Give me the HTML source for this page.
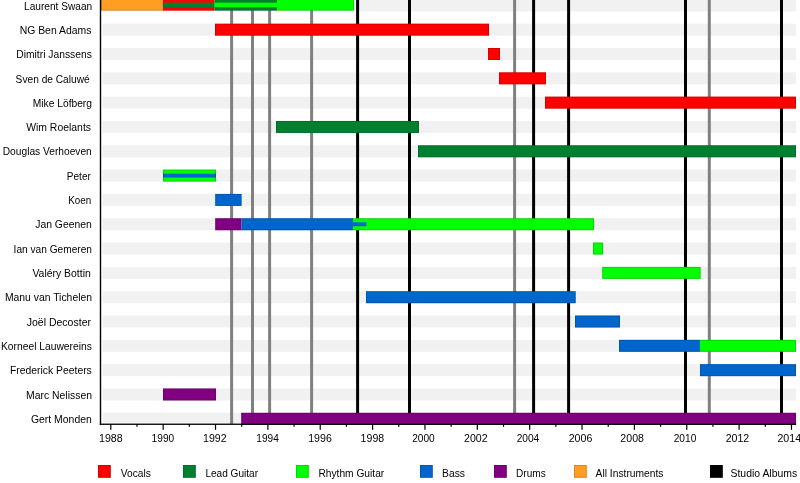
<!DOCTYPE html><html><head><meta charset="utf-8"><style>html,body{margin:0;padding:0;background:#fff;width:800px;height:483px;overflow:hidden;position:relative} svg{will-change:transform}</style></head><body><svg width="800" height="483" viewBox="0 0 800 483" style="position:absolute;left:0;top:0">
<rect x="0" y="0" width="800" height="483" fill="#fff"/>
<rect x="102.5" y="-0.64" width="693.5" height="12.00" fill="#f1f1f1"/>
<rect x="102.5" y="23.68" width="693.5" height="12.00" fill="#f1f1f1"/>
<rect x="102.5" y="48.00" width="693.5" height="12.00" fill="#f1f1f1"/>
<rect x="102.5" y="72.32" width="693.5" height="12.00" fill="#f1f1f1"/>
<rect x="102.5" y="96.64" width="693.5" height="12.00" fill="#f1f1f1"/>
<rect x="102.5" y="120.96" width="693.5" height="12.00" fill="#f1f1f1"/>
<rect x="102.5" y="145.28" width="693.5" height="12.00" fill="#f1f1f1"/>
<rect x="102.5" y="169.60" width="693.5" height="12.00" fill="#f1f1f1"/>
<rect x="102.5" y="193.92" width="693.5" height="12.00" fill="#f1f1f1"/>
<rect x="102.5" y="218.24" width="693.5" height="12.00" fill="#f1f1f1"/>
<rect x="102.5" y="242.56" width="693.5" height="12.00" fill="#f1f1f1"/>
<rect x="102.5" y="266.88" width="693.5" height="12.00" fill="#f1f1f1"/>
<rect x="102.5" y="291.20" width="693.5" height="12.00" fill="#f1f1f1"/>
<rect x="102.5" y="315.52" width="693.5" height="12.00" fill="#f1f1f1"/>
<rect x="102.5" y="339.84" width="693.5" height="12.00" fill="#f1f1f1"/>
<rect x="102.5" y="364.16" width="693.5" height="12.00" fill="#f1f1f1"/>
<rect x="102.5" y="388.48" width="693.5" height="12.00" fill="#f1f1f1"/>
<rect x="102.5" y="412.80" width="693.5" height="12.00" fill="#f1f1f1"/>
<rect x="230.10" y="-2" width="3" height="426.3" fill="#808080"/>
<rect x="251.00" y="-2" width="3" height="426.3" fill="#808080"/>
<rect x="268.10" y="-2" width="3" height="426.3" fill="#808080"/>
<rect x="310.10" y="-2" width="3" height="426.3" fill="#808080"/>
<rect x="356.10" y="-2" width="3" height="426.3" fill="#000000"/>
<rect x="408.00" y="-2" width="3" height="426.3" fill="#000000"/>
<rect x="513.10" y="-2" width="3" height="426.3" fill="#808080"/>
<rect x="532.10" y="-2" width="3" height="426.3" fill="#000000"/>
<rect x="567.10" y="-2" width="3" height="426.3" fill="#000000"/>
<rect x="684.00" y="-2" width="3" height="426.3" fill="#000000"/>
<rect x="707.80" y="-2" width="3" height="426.3" fill="#808080"/>
<rect x="780.00" y="-2" width="3" height="426.3" fill="#000000"/>
<rect x="101.00" y="-0.70" width="61.80" height="11.3" fill="#ff9e22"/>
<rect x="162.80" y="-0.70" width="51.70" height="11.3" fill="#ff0000"/>
<rect x="162.80" y="2.65" width="51.70" height="4.6" fill="#00802f"/>
<rect x="214.50" y="-0.70" width="62.50" height="11.3" fill="#00802f"/>
<rect x="214.50" y="2.65" width="62.50" height="4.6" fill="#00ff00"/>
<rect x="277.00" y="-0.70" width="77.00" height="11.3" fill="#00ff00"/>
<rect x="101.50" y="-5.00" width="252.00" height="15.10" fill="none" stroke="rgba(0,0,0,0.15)" stroke-width="1"/>
<rect x="215.00" y="23.68" width="274.00" height="12.0" fill="#ff0000"/>
<rect x="215.50" y="24.18" width="273.00" height="11.00" fill="none" stroke="rgba(0,0,0,0.15)" stroke-width="1"/>
<rect x="488.00" y="48.00" width="12.00" height="12.0" fill="#ff0000"/>
<rect x="488.50" y="48.50" width="11.00" height="11.00" fill="none" stroke="rgba(0,0,0,0.15)" stroke-width="1"/>
<rect x="499.00" y="72.32" width="47.00" height="12.0" fill="#ff0000"/>
<rect x="499.50" y="72.82" width="46.00" height="11.00" fill="none" stroke="rgba(0,0,0,0.15)" stroke-width="1"/>
<rect x="545.00" y="96.64" width="251.00" height="12.0" fill="#ff0000"/>
<rect x="545.50" y="97.14" width="250.00" height="11.00" fill="none" stroke="rgba(0,0,0,0.15)" stroke-width="1"/>
<rect x="276.00" y="120.96" width="143.00" height="12.0" fill="#00802f"/>
<rect x="276.50" y="121.46" width="142.00" height="11.00" fill="none" stroke="rgba(0,0,0,0.15)" stroke-width="1"/>
<rect x="418.00" y="145.28" width="378.00" height="12.0" fill="#00802f"/>
<rect x="418.50" y="145.78" width="377.00" height="11.00" fill="none" stroke="rgba(0,0,0,0.15)" stroke-width="1"/>
<rect x="163.00" y="169.60" width="53.00" height="12.0" fill="#00ff00"/>
<rect x="163.00" y="173.65" width="53.00" height="3.9" fill="#0066cc"/>
<rect x="163.50" y="170.10" width="52.00" height="11.00" fill="none" stroke="rgba(0,0,0,0.15)" stroke-width="1"/>
<rect x="215.20" y="193.92" width="26.40" height="12.0" fill="#0066cc"/>
<rect x="215.70" y="194.42" width="25.40" height="11.00" fill="none" stroke="rgba(0,0,0,0.15)" stroke-width="1"/>
<rect x="215.20" y="218.24" width="26.40" height="12.0" fill="#800080"/>
<rect x="241.60" y="218.24" width="111.40" height="12.0" fill="#0066cc"/>
<rect x="353.00" y="218.24" width="13.70" height="12.0" fill="#00ff00"/>
<rect x="353.00" y="222.29" width="13.70" height="3.9" fill="#0066cc"/>
<rect x="366.70" y="218.24" width="227.30" height="12.0" fill="#00ff00"/>
<rect x="215.70" y="218.74" width="377.80" height="11.00" fill="none" stroke="rgba(0,0,0,0.15)" stroke-width="1"/>
<rect x="593.00" y="242.56" width="10.00" height="12.0" fill="#00ff00"/>
<rect x="593.50" y="243.06" width="9.00" height="11.00" fill="none" stroke="rgba(0,0,0,0.15)" stroke-width="1"/>
<rect x="602.20" y="266.88" width="98.40" height="12.0" fill="#00ff00"/>
<rect x="602.70" y="267.38" width="97.40" height="11.00" fill="none" stroke="rgba(0,0,0,0.15)" stroke-width="1"/>
<rect x="366.00" y="291.20" width="209.70" height="12.0" fill="#0066cc"/>
<rect x="366.50" y="291.70" width="208.70" height="11.00" fill="none" stroke="rgba(0,0,0,0.15)" stroke-width="1"/>
<rect x="575.00" y="315.52" width="45.00" height="12.0" fill="#0066cc"/>
<rect x="575.50" y="316.02" width="44.00" height="11.00" fill="none" stroke="rgba(0,0,0,0.15)" stroke-width="1"/>
<rect x="619.00" y="339.84" width="81.00" height="12.0" fill="#0066cc"/>
<rect x="700.00" y="339.84" width="96.00" height="12.0" fill="#00ff00"/>
<rect x="619.50" y="340.34" width="176.00" height="11.00" fill="none" stroke="rgba(0,0,0,0.15)" stroke-width="1"/>
<rect x="700.00" y="364.16" width="96.00" height="12.0" fill="#0066cc"/>
<rect x="700.50" y="364.66" width="95.00" height="11.00" fill="none" stroke="rgba(0,0,0,0.15)" stroke-width="1"/>
<rect x="163.00" y="388.48" width="53.00" height="12.0" fill="#800080"/>
<rect x="163.50" y="388.98" width="52.00" height="11.00" fill="none" stroke="rgba(0,0,0,0.15)" stroke-width="1"/>
<rect x="241.20" y="412.80" width="554.80" height="12.0" fill="#800080"/>
<rect x="241.70" y="413.30" width="553.80" height="11.00" fill="none" stroke="rgba(0,0,0,0.15)" stroke-width="1"/>
<rect x="99.8" y="-2" width="1.4" height="427" fill="#000"/>
<rect x="99.8" y="423.6" width="696.4" height="1.3" fill="#000"/>
<rect x="110.20" y="424" width="1.2" height="5.8" fill="#000"/>
<rect x="136.38" y="424" width="1.2" height="2.8" fill="#000"/>
<rect x="162.56" y="424" width="1.2" height="5.8" fill="#000"/>
<rect x="188.74" y="424" width="1.2" height="2.8" fill="#000"/>
<rect x="214.92" y="424" width="1.2" height="5.8" fill="#000"/>
<rect x="241.10" y="424" width="1.2" height="2.8" fill="#000"/>
<rect x="267.28" y="424" width="1.2" height="5.8" fill="#000"/>
<rect x="293.46" y="424" width="1.2" height="2.8" fill="#000"/>
<rect x="319.64" y="424" width="1.2" height="5.8" fill="#000"/>
<rect x="345.82" y="424" width="1.2" height="2.8" fill="#000"/>
<rect x="372.00" y="424" width="1.2" height="5.8" fill="#000"/>
<rect x="398.18" y="424" width="1.2" height="2.8" fill="#000"/>
<rect x="424.36" y="424" width="1.2" height="5.8" fill="#000"/>
<rect x="450.54" y="424" width="1.2" height="2.8" fill="#000"/>
<rect x="476.72" y="424" width="1.2" height="5.8" fill="#000"/>
<rect x="502.90" y="424" width="1.2" height="2.8" fill="#000"/>
<rect x="529.08" y="424" width="1.2" height="5.8" fill="#000"/>
<rect x="555.26" y="424" width="1.2" height="2.8" fill="#000"/>
<rect x="581.44" y="424" width="1.2" height="5.8" fill="#000"/>
<rect x="607.62" y="424" width="1.2" height="2.8" fill="#000"/>
<rect x="633.80" y="424" width="1.2" height="5.8" fill="#000"/>
<rect x="659.98" y="424" width="1.2" height="2.8" fill="#000"/>
<rect x="686.16" y="424" width="1.2" height="5.8" fill="#000"/>
<rect x="712.34" y="424" width="1.2" height="2.8" fill="#000"/>
<rect x="738.52" y="424" width="1.2" height="5.8" fill="#000"/>
<rect x="764.70" y="424" width="1.2" height="2.8" fill="#000"/>
<rect x="790.88" y="424" width="1.2" height="5.8" fill="#000"/>
<text x="92.20" y="9.56" text-anchor="end" font-family="Liberation Sans, sans-serif" font-size="10.8" fill="#000" transform="translate(92.20 0) scale(0.9389 1) translate(-92.20 0)">Laurent Swaan</text>
<text x="91.50" y="33.88" text-anchor="end" font-family="Liberation Sans, sans-serif" font-size="10.8" fill="#000" transform="translate(91.50 0) scale(0.9666 1) translate(-91.50 0)">NG Ben Adams</text>
<text x="91.80" y="58.20" text-anchor="end" font-family="Liberation Sans, sans-serif" font-size="10.8" fill="#000" transform="translate(91.80 0) scale(0.9539 1) translate(-91.80 0)">Dimitri Janssens</text>
<text x="89.70" y="82.52" text-anchor="end" font-family="Liberation Sans, sans-serif" font-size="10.8" fill="#000" transform="translate(89.70 0) scale(0.9424 1) translate(-89.70 0)">Sven de Caluwé</text>
<text x="92.00" y="106.84" text-anchor="end" font-family="Liberation Sans, sans-serif" font-size="10.8" fill="#000" transform="translate(92.00 0) scale(0.9500 1) translate(-92.00 0)">Mike Löfberg</text>
<text x="91.00" y="131.16" text-anchor="end" font-family="Liberation Sans, sans-serif" font-size="10.8" fill="#000" transform="translate(91.00 0) scale(0.9653 1) translate(-91.00 0)">Wim Roelants</text>
<text x="91.80" y="155.48" text-anchor="end" font-family="Liberation Sans, sans-serif" font-size="10.8" fill="#000" transform="translate(91.80 0) scale(0.9457 1) translate(-91.80 0)">Douglas Verhoeven</text>
<text x="90.80" y="179.80" text-anchor="end" font-family="Liberation Sans, sans-serif" font-size="10.8" fill="#000" transform="translate(90.80 0) scale(0.9281 1) translate(-90.80 0)">Peter</text>
<text x="91.20" y="204.12" text-anchor="end" font-family="Liberation Sans, sans-serif" font-size="10.8" fill="#000" transform="translate(91.20 0) scale(0.9087 1) translate(-91.20 0)">Koen</text>
<text x="91.80" y="228.44" text-anchor="end" font-family="Liberation Sans, sans-serif" font-size="10.8" fill="#000" transform="translate(91.80 0) scale(0.9621 1) translate(-91.80 0)">Jan Geenen</text>
<text x="92.00" y="252.76" text-anchor="end" font-family="Liberation Sans, sans-serif" font-size="10.8" fill="#000" transform="translate(92.00 0) scale(0.9403 1) translate(-92.00 0)">Ian van Gemeren</text>
<text x="90.80" y="277.08" text-anchor="end" font-family="Liberation Sans, sans-serif" font-size="10.8" fill="#000" transform="translate(90.80 0) scale(0.9667 1) translate(-90.80 0)">Valéry Bottin</text>
<text x="92.00" y="301.40" text-anchor="end" font-family="Liberation Sans, sans-serif" font-size="10.8" fill="#000" transform="translate(92.00 0) scale(0.9623 1) translate(-92.00 0)">Manu van Tichelen</text>
<text x="91.00" y="325.72" text-anchor="end" font-family="Liberation Sans, sans-serif" font-size="10.8" fill="#000" transform="translate(91.00 0) scale(0.9748 1) translate(-91.00 0)">Joël Decoster</text>
<text x="91.80" y="350.04" text-anchor="end" font-family="Liberation Sans, sans-serif" font-size="10.8" fill="#000" transform="translate(91.80 0) scale(0.9522 1) translate(-91.80 0)">Korneel Lauwereins</text>
<text x="91.80" y="374.36" text-anchor="end" font-family="Liberation Sans, sans-serif" font-size="10.8" fill="#000" transform="translate(91.80 0) scale(0.9607 1) translate(-91.80 0)">Frederick Peeters</text>
<text x="92.00" y="398.68" text-anchor="end" font-family="Liberation Sans, sans-serif" font-size="10.8" fill="#000" transform="translate(92.00 0) scale(0.9651 1) translate(-92.00 0)">Marc Nelissen</text>
<text x="91.80" y="423.00" text-anchor="end" font-family="Liberation Sans, sans-serif" font-size="10.8" fill="#000" transform="translate(91.80 0) scale(0.9661 1) translate(-91.80 0)">Gert Monden</text>
<text x="110.80" y="441.8" text-anchor="middle" font-family="Liberation Sans, sans-serif" font-size="10.5" fill="#000" transform="translate(110.80 0) scale(1.0123 1) translate(-110.80 0)">1988</text>
<text x="162.91" y="441.8" text-anchor="middle" font-family="Liberation Sans, sans-serif" font-size="10.5" fill="#000" transform="translate(162.91 0) scale(0.9663 1) translate(-162.91 0)">1990</text>
<text x="214.82" y="441.8" text-anchor="middle" font-family="Liberation Sans, sans-serif" font-size="10.5" fill="#000" transform="translate(214.82 0) scale(1.0102 1) translate(-214.82 0)">1992</text>
<text x="267.58" y="441.8" text-anchor="middle" font-family="Liberation Sans, sans-serif" font-size="10.5" fill="#000" transform="translate(267.58 0) scale(0.9663 1) translate(-267.58 0)">1994</text>
<text x="319.99" y="441.8" text-anchor="middle" font-family="Liberation Sans, sans-serif" font-size="10.5" fill="#000" transform="translate(319.99 0) scale(1.0102 1) translate(-319.99 0)">1996</text>
<text x="372.40" y="441.8" text-anchor="middle" font-family="Liberation Sans, sans-serif" font-size="10.5" fill="#000" transform="translate(372.40 0) scale(1.0102 1) translate(-372.40 0)">1998</text>
<text x="423.41" y="441.8" text-anchor="middle" font-family="Liberation Sans, sans-serif" font-size="10.5" fill="#000" transform="translate(423.41 0) scale(0.9663 1) translate(-423.41 0)">2000</text>
<text x="475.82" y="441.8" text-anchor="middle" font-family="Liberation Sans, sans-serif" font-size="10.5" fill="#000" transform="translate(475.82 0) scale(1.0102 1) translate(-475.82 0)">2002</text>
<text x="527.93" y="441.8" text-anchor="middle" font-family="Liberation Sans, sans-serif" font-size="10.5" fill="#000" transform="translate(527.93 0) scale(0.9663 1) translate(-527.93 0)">2004</text>
<text x="580.54" y="441.8" text-anchor="middle" font-family="Liberation Sans, sans-serif" font-size="10.5" fill="#000" transform="translate(580.54 0) scale(1.0123 1) translate(-580.54 0)">2006</text>
<text x="632.15" y="441.8" text-anchor="middle" font-family="Liberation Sans, sans-serif" font-size="10.5" fill="#000" transform="translate(632.15 0) scale(1.0102 1) translate(-632.15 0)">2008</text>
<text x="685.01" y="441.8" text-anchor="middle" font-family="Liberation Sans, sans-serif" font-size="10.5" fill="#000" transform="translate(685.01 0) scale(0.9663 1) translate(-685.01 0)">2010</text>
<text x="737.47" y="441.8" text-anchor="middle" font-family="Liberation Sans, sans-serif" font-size="10.5" fill="#000" transform="translate(737.47 0) scale(1.0123 1) translate(-737.47 0)">2012</text>
<text x="789.25" y="441.8" text-anchor="middle" font-family="Liberation Sans, sans-serif" font-size="10.5" fill="#000" transform="translate(789.25 0) scale(1.0123 1) translate(-789.25 0)">2014</text>
<rect x="98" y="465" width="12.8" height="12.8" fill="#ff0000"/>
<rect x="98.5" y="465.5" width="11.8" height="11.8" fill="none" stroke="rgba(0,0,0,0.15)" stroke-width="1"/>
<text x="120.80" y="477.0" font-family="Liberation Sans, sans-serif" font-size="10.8" fill="#000" transform="translate(120.80 0) scale(0.9443 1) translate(-120.80 0)">Vocals</text>
<rect x="183" y="465" width="12.8" height="12.8" fill="#00802f"/>
<rect x="183.5" y="465.5" width="11.8" height="11.8" fill="none" stroke="rgba(0,0,0,0.15)" stroke-width="1"/>
<text x="205.40" y="477.0" font-family="Liberation Sans, sans-serif" font-size="10.8" fill="#000" transform="translate(205.40 0) scale(0.9348 1) translate(-205.40 0)">Lead Guitar</text>
<rect x="296" y="465" width="12.8" height="12.8" fill="#00ff00"/>
<rect x="296.5" y="465.5" width="11.8" height="11.8" fill="none" stroke="rgba(0,0,0,0.15)" stroke-width="1"/>
<text x="318.40" y="477.0" font-family="Liberation Sans, sans-serif" font-size="10.8" fill="#000" transform="translate(318.40 0) scale(0.9470 1) translate(-318.40 0)">Rhythm Guitar</text>
<rect x="420" y="465" width="12.8" height="12.8" fill="#0066cc"/>
<rect x="420.5" y="465.5" width="11.8" height="11.8" fill="none" stroke="rgba(0,0,0,0.15)" stroke-width="1"/>
<text x="442.10" y="477.0" font-family="Liberation Sans, sans-serif" font-size="10.8" fill="#000" transform="translate(442.10 0) scale(0.9563 1) translate(-442.10 0)">Bass</text>
<rect x="494" y="465" width="12.8" height="12.8" fill="#800080"/>
<rect x="494.5" y="465.5" width="11.8" height="11.8" fill="none" stroke="rgba(0,0,0,0.15)" stroke-width="1"/>
<text x="516.10" y="477.0" font-family="Liberation Sans, sans-serif" font-size="10.8" fill="#000" transform="translate(516.10 0) scale(0.9338 1) translate(-516.10 0)">Drums</text>
<rect x="574" y="465" width="12.8" height="12.8" fill="#ff9e22"/>
<rect x="574.5" y="465.5" width="11.8" height="11.8" fill="none" stroke="rgba(0,0,0,0.15)" stroke-width="1"/>
<text x="595.60" y="477.0" font-family="Liberation Sans, sans-serif" font-size="10.8" fill="#000" transform="translate(595.60 0) scale(0.9516 1) translate(-595.60 0)">All Instruments</text>
<rect x="710" y="465" width="12.8" height="12.8" fill="#000000"/>
<rect x="710.5" y="465.5" width="11.8" height="11.8" fill="none" stroke="rgba(0,0,0,0.15)" stroke-width="1"/>
<text x="730.50" y="477.0" font-family="Liberation Sans, sans-serif" font-size="10.8" fill="#000" transform="translate(730.50 0) scale(0.9674 1) translate(-730.50 0)">Studio Albums</text>
</svg></body></html>
